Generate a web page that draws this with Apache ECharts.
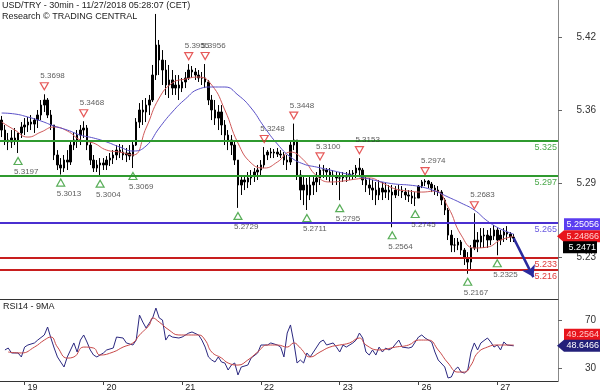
<!DOCTYPE html>
<html><head><meta charset="utf-8">
<script src="https://cdn.jsdelivr.net/npm/echarts@6/dist/echarts.min.js"></script>
<style>html,body{margin:0;padding:0;background:#fff}#c{width:600px;height:392px}</style>
</head><body><div id="c"></div>
<script>
// ---- data (hourly bars, USD/TRY) ----
const firstOpen = 5.3478;
const highs = [5.3513,5.3436,5.3368,5.3393,5.3410,5.3350,5.3461,5.3495,5.3504,5.3521,5.3495,5.3564,5.3649,5.3698,5.3666,5.3564,5.3436,5.3222,5.3154,5.3180,
5.3222,5.3308,5.3376,5.3393,5.3436,5.3468,5.3436,5.3308,5.3180,5.3137,5.3154,5.3154,5.3171,5.3197,5.3222,5.3265,5.3274,5.3265,5.3240,5.3265,
5.3308,5.3495,5.3623,5.3649,5.3666,5.3692,5.3948,5.4383,5.4161,5.4075,5.3990,5.3948,5.3905,5.3862,5.3862,5.3837,5.3888,5.3955,5.3939,5.3922,
5.3905,5.3888,5.3956,5.3820,5.3692,5.3649,5.3606,5.3606,5.3478,5.3393,5.3350,5.3308,5.3137,5.3009,5.3009,5.3035,5.3052,5.3069,5.3095,5.3137,
5.3248,5.3222,5.3240,5.3231,5.3240,5.3222,5.3205,5.3180,5.3308,5.3448,5.3308,5.3052,5.3009,5.2984,5.3009,5.3009,5.3035,5.3100,5.3095,5.3069,
5.3069,5.3052,5.3035,5.3035,5.3035,5.3035,5.3052,5.3052,5.3095,5.3153,5.3069,5.3009,5.2984,5.2967,5.2950,5.2967,5.2950,5.2941,5.2924,5.2924,
5.2915,5.2924,5.2915,5.2898,5.2881,5.2881,5.2864,5.2924,5.2967,5.2974,5.2967,5.2950,5.2924,5.2915,5.2881,5.2813,5.2728,5.2540,5.2472,5.2472,
5.2455,5.2387,5.2352,5.2412,5.2683,5.2523,5.2557,5.2557,5.2540,5.2557,5.2583,5.2557,5.2540,5.2557,5.2574,5.2523,5.2506];
const lows = [5.3333,5.3265,5.3222,5.3240,5.3265,5.3197,5.3325,5.3350,5.3376,5.3393,5.3368,5.3410,5.3478,5.3547,5.3495,5.3393,5.3137,5.3052,5.3013,5.3035,
5.3052,5.3095,5.3222,5.3240,5.3265,5.3325,5.3222,5.3095,5.3035,5.3035,5.3004,5.3052,5.3052,5.3086,5.3103,5.3137,5.3154,5.3137,5.3120,5.3137,
5.3069,5.3257,5.3410,5.3436,5.3461,5.3521,5.3632,5.3820,5.3862,5.3777,5.3692,5.3666,5.3692,5.3692,5.3649,5.3717,5.3751,5.3820,5.3837,5.3820,
5.3803,5.3777,5.3751,5.3606,5.3478,5.3436,5.3393,5.3350,5.3265,5.3222,5.3180,5.3095,5.2729,5.2839,5.2881,5.2898,5.2924,5.2950,5.2967,5.3009,
5.3069,5.3137,5.3154,5.3154,5.3163,5.3154,5.3095,5.3052,5.3095,5.3222,5.2967,5.2796,5.2753,5.2711,5.2796,5.2839,5.2864,5.2924,5.2984,5.2967,
5.2950,5.2924,5.2924,5.2795,5.2950,5.2950,5.2967,5.2967,5.2984,5.3009,5.2924,5.2864,5.2839,5.2796,5.2753,5.2796,5.2796,5.2813,5.2796,5.2564,
5.2813,5.2830,5.2813,5.2796,5.2779,5.2762,5.2745,5.2813,5.2898,5.2915,5.2898,5.2864,5.2839,5.2830,5.2753,5.2668,5.2455,5.2352,5.2352,5.2369,
5.2327,5.2242,5.2167,5.2199,5.2369,5.2352,5.2387,5.2387,5.2387,5.2412,5.2455,5.2325,5.2412,5.2438,5.2455,5.2438,5.2438];
const closes = [5.3393,5.3308,5.3291,5.3325,5.3308,5.3368,5.3419,5.3436,5.3461,5.3444,5.3478,5.3521,5.3606,5.3649,5.3521,5.3436,5.3180,5.3095,5.3069,5.3137,
5.3120,5.3265,5.3308,5.3350,5.3393,5.3410,5.3265,5.3137,5.3069,5.3095,5.3112,5.3095,5.3137,5.3154,5.3180,5.3222,5.3205,5.3180,5.3197,5.3171,
5.3265,5.3461,5.3564,5.3547,5.3606,5.3649,5.3862,5.4118,5.3990,5.3905,5.3777,5.3820,5.3751,5.3777,5.3751,5.3803,5.3837,5.3905,5.3888,5.3862,
5.3837,5.3837,5.3803,5.3649,5.3564,5.3495,5.3547,5.3436,5.3350,5.3308,5.3265,5.3137,5.2924,5.2967,5.2950,5.2984,5.3001,5.3035,5.3052,5.3095,
5.3180,5.3205,5.3197,5.3205,5.3188,5.3180,5.3137,5.3120,5.3265,5.3308,5.3009,5.2881,5.2924,5.2839,5.2924,5.2950,5.2984,5.3052,5.3052,5.3035,
5.3009,5.3001,5.2984,5.2984,5.2992,5.3001,5.3018,5.3026,5.3069,5.3052,5.2967,5.2924,5.2898,5.2881,5.2839,5.2898,5.2864,5.2881,5.2864,5.2839,
5.2881,5.2881,5.2864,5.2839,5.2830,5.2813,5.2813,5.2915,5.2950,5.2958,5.2932,5.2898,5.2881,5.2864,5.2796,5.2711,5.2497,5.2412,5.2412,5.2438,
5.2369,5.2301,5.2267,5.2387,5.2455,5.2438,5.2489,5.2497,5.2455,5.2489,5.2540,5.2455,5.2497,5.2523,5.2506,5.2480,5.2471];

const maIdx = [0,4,8,12,16,20,24,28,32,36,40,44,48,52,56,60,64,68,72,76,80,84,88,92,96,100,104,108,112,116,120,124,128,132,136,140,144,148,152,156];
const maRed = [5.3461,5.3393,5.3333,5.3376,5.3419,5.3385,5.3308,5.3282,5.3222,5.3205,5.3180,5.3410,5.3666,5.3794,5.3828,5.3845,5.3777,5.3564,5.3282,5.3112,
5.3069,5.3120,5.3205,5.3137,5.3001,5.2950,5.2958,5.2975,5.2984,5.2941,5.2890,5.2873,5.2864,5.2873,5.2736,5.2497,5.2387,5.2395,5.2455,5.24866];
const maBlue = [5.3538,5.3530,5.3504,5.3470,5.3427,5.3393,5.3350,5.3325,5.3291,5.3248,5.3214,5.3257,5.3410,5.3547,5.3658,5.3742,5.3760,5.3760,5.3692,5.3581,
5.3419,5.3274,5.3163,5.3103,5.3077,5.3052,5.3026,5.3001,5.2975,5.2950,5.2932,5.2924,5.2907,5.2873,5.2822,5.2770,5.2711,5.2617,5.2549,5.25056];

const peakIdx = [13,25,57,62,80,89,97,109,129,144];
const peakVal = [5.3698,5.3468,5.3955,5.3956,5.3248,5.3448,5.3100,5.3153,5.2974,5.2683];
const troughIdx = [5,18,30,40,72,93,103,119,126,142,151];
const troughVal = [5.3197,5.3013,5.3004,5.3069,5.2729,5.2711,5.2795,5.2564,5.2745,5.2167,5.2325];

const levels = [5.325,5.297,5.265,5.233,5.216];
const forecastIdx = [156,162];
const forecastVal = [5.2471,5.2139];

const rsiIdx = [1,2,3,5,6,7,8,10,11,13,14,15,16,17,18,19,20,22,23,24,25,26,27,28,29,31,32,34,35,37,38,40,41,42,43,44,45,46,47,48,49,50,51,52,54,55,57,58,60,61,62,63,64,65,66,67,68,69,70,71,72,73,75,76,78,79,81,82,84,85,86,87,88,89,90,91,92,93,94,95,97,98,99,101,102,103,104,105,107,108,109,110,111,112,113,114,115,116,117,118,119,121,122,124,125,127,128,129,131,132,133,135,136,137,138,139,140,141,142,143,144,145,146,148,149,150,151,152,153,154,156];
const rsiVal = [45.2,46.8,42.7,42.7,39.4,47.6,49.3,51.0,53.4,57.6,64.2,55.1,46.8,39.4,35.2,31.1,39.4,51.0,43.5,53.4,57.6,51.8,45.2,41.0,39.4,42.7,45.2,46.8,55.9,55.1,51.0,49.3,53.4,74.1,68.3,63.4,67.5,71.7,79.9,71.7,70.0,53.4,57.6,55.9,55.1,55.9,59.2,60.1,57.6,53.4,47.6,39.4,36.9,35.2,39.4,35.2,34.4,28.6,32.7,34.4,24.5,31.1,32.7,38.5,42.7,49.3,49.3,51.0,49.3,47.6,39.4,59.2,65.9,51.8,34.4,36.9,34.4,42.7,39.4,43.5,51.8,53.4,49.3,51.0,47.6,43.5,49.3,47.6,51.0,53.4,59.2,55.1,43.5,41.0,45.2,41.0,47.6,43.5,46.8,45.2,46.8,53.4,47.6,46.8,47.6,55.9,57.6,55.1,51.8,43.5,36.9,31.1,22.0,22.8,28.6,31.1,26.9,26.1,28.6,43.5,51.0,45.2,51.0,55.1,51.8,47.6,49.3,45.2,51.8,49.3,48.6466];
const rsiMaIdx = [2,6,10,13,15,17,20,22,25,28,30,34,37,40,42,45,46,48,51,54,57,60,62,64,67,69,72,75,78,81,84,87,89,91,94,97,100,103,106,109,111,115,120,124,127,130,133,136,139,141,143,145,148,151,154,156];
const rsiMaVal = [43.5,42.7,47.6,53.4,55.9,47.6,38.5,39.4,47.6,46.8,41.0,43.5,47.6,51.0,57.6,65.9,71.7,68.3,61.7,57.6,57.6,57.6,53.4,43.5,38.5,34.4,32.7,36.9,43.5,49.3,49.3,47.6,51.0,46.8,39.4,43.5,47.6,49.3,51.0,55.1,49.3,45.2,47.6,49.3,53.4,53.4,45.2,34.4,26.9,26.9,32.7,42.7,47.6,49.3,49.3,49.2564];

const dayTickIdx = [7,31,55,79,103,127,151];
const dayTickLabels = ['19','20','21','22','23','26','27'];
const priceTicks = [5.2310,5.2935,5.3560,5.4185];
const rsiTicks = [30,70];
const slotCount = 170;

// ---- build ----
const FONT = "'Liberation Sans', Arial, sans-serif";
const cats = Array.from({length: slotCount}, (_, i) => String(i));
const ohlc = closes.map((c, i) => [i === 0 ? firstOpen : closes[i-1], c, lows[i], highs[i]]);
const pairs = (ix, vs) => ix.map((x, k) => [x, vs[k]]);
const levelLine = ['#2f9a2f','#2f9a2f','#4a2fd0','#c81e1e','#c81e1e'];
const levelText = ['#4aa84a','#4aa84a','#6a5ae0','#e03a3a','#e03a3a'];
const isDay = (i) => dayTickIdx.indexOf(i) >= 0;

const chart = echarts.init(document.getElementById('c'), null, {renderer: 'canvas'});
const option = {
  animation: false,
  backgroundColor: '#fff',
  textStyle: {fontFamily: FONT},
  grid: [
    {left: 0, right: 42, top: 0, height: 299},
    {left: 0, right: 42, top: 299, height: 82}
  ],
  xAxis: [
    {type: 'category', gridIndex: 0, data: cats, boundaryGap: true,
     axisLine: {show: true, lineStyle: {color: '#333', width: 1}},
     axisTick: {show: false}, axisLabel: {show: false}, splitLine: {show: false}},
    {type: 'category', gridIndex: 1, data: cats, boundaryGap: true,
     axisLine: {show: true, lineStyle: {color: '#333', width: 1}},
     axisTick: {show: true, alignWithLabel: true, interval: (i) => isDay(i), length: 4, lineStyle: {color: '#444'}},
     axisLabel: {show: true, interval: (i) => isDay(i), align: 'left', padding: [0,0,0,3], margin: 2,
       fontSize: 9, color: '#222', fontFamily: FONT,
       formatter: (v, i) => dayTickLabels[dayTickIdx.indexOf(Number(v))] || ''},
     splitLine: {show: false}}
  ],
  yAxis: [
    {type: 'value', gridIndex: 0, position: 'right', min: 5.1952, max: 5.4502, scale: true,
     axisLine: {show: true, lineStyle: {color: '#888', width: 1}},
     axisTick: {show: true, length: 4, customValues: priceTicks, lineStyle: {color: '#666'}},
     axisLabel: {show: true, customValues: priceTicks, formatter: (v) => v.toFixed(2), align: 'right', margin: 38,
       fontSize: 10, color: '#333', fontFamily: FONT},
     splitLine: {show: false}},
    {type: 'value', gridIndex: 1, position: 'right', min: 19.5, max: 87.4,
     axisLine: {show: true, lineStyle: {color: '#888', width: 1}},
     axisTick: {show: true, length: 4, customValues: rsiTicks, lineStyle: {color: '#666'}},
     axisLabel: {show: true, customValues: rsiTicks, formatter: (v) => String(Math.round(v)), align: 'right', margin: 38,
       fontSize: 10, color: '#333', fontFamily: FONT},
     splitLine: {show: false}}
  ],
  series: [
    {type: 'candlestick', xAxisIndex: 0, yAxisIndex: 0, data: ohlc, barWidth: 2,
     itemStyle: {color: '#000', color0: '#000', borderColor: '#000', borderColor0: '#000', borderWidth: 1},
     markLine: {silent: true, symbol: 'none', animation: false,
       data: levels.map((v, k) => ({yAxis: v,
         lineStyle: {color: levelLine[k], width: 2, type: 'solid'},
         label: {show: true, position: 'insideEndBottom', formatter: v.toFixed(3), color: levelText[k],
                 fontSize: 9, fontFamily: FONT, distance: [1, 2]}}))}},
    {type: 'line', xAxisIndex: 0, yAxisIndex: 0, data: pairs(maIdx, maRed), smooth: true, showSymbol: false,
     lineStyle: {color: '#d05a5a', width: 1}, z: 3},
    {type: 'line', xAxisIndex: 0, yAxisIndex: 0, data: pairs(maIdx, maBlue), smooth: true, showSymbol: false,
     lineStyle: {color: '#5a50c8', width: 1}, z: 3},
    {type: 'line', xAxisIndex: 0, yAxisIndex: 0, data: [], showSymbol: false,
     markLine: {silent: true, symbol: ['none', 'arrow'], symbolSize: 11, animation: false,
       lineStyle: {color: '#2a2a9e', width: 2.5, type: 'solid'}, label: {show: false},
       data: [[{coord: [forecastIdx[0], forecastVal[0]]}, {coord: [forecastIdx[1], forecastVal[1]]}]]}},
    {type: 'scatter', xAxisIndex: 0, yAxisIndex: 0, data: pairs(peakIdx, peakVal), symbol: 'triangle',
     symbolRotate: 180, symbolSize: [8, 7], symbolOffset: [0, -8], z: 5,
     itemStyle: {color: 'rgba(255,255,255,0)', borderColor: '#e03030', borderWidth: 1.2},
     label: {show: true, position: 'top', distance: 2, align: 'left', offset: [-4, 0],
       formatter: (p) => p.value[1].toFixed(4), fontSize: 8, color: '#333', fontFamily: FONT}},
    {type: 'scatter', xAxisIndex: 0, yAxisIndex: 0, data: pairs(troughIdx, troughVal), symbol: 'triangle',
     symbolSize: [8, 7], symbolOffset: [0, 8], z: 5,
     itemStyle: {color: 'rgba(255,255,255,0)', borderColor: '#2f9a2f', borderWidth: 1.2},
     label: {show: true, position: 'bottom', distance: 3, align: 'left', offset: [-4, 0],
       formatter: (p) => p.value[1].toFixed(4), fontSize: 8, color: '#333', fontFamily: FONT}},
    {type: 'line', xAxisIndex: 1, yAxisIndex: 1, data: pairs(rsiIdx, rsiVal), showSymbol: false,
     lineStyle: {color: '#2b2880', width: 1}},
    {type: 'line', xAxisIndex: 1, yAxisIndex: 1, data: pairs(rsiMaIdx, rsiMaVal), smooth: true, showSymbol: false,
     lineStyle: {color: '#c84848', width: 1}}
  ]
};
chart.setOption(option);

// ---- value tags on the right ----
const yPx = (axis, v) => chart.convertToPixel({yAxisIndex: axis}, v);
const yRedMA = yPx(0, maRed[maRed.length-1]);
const yRsi = yPx(1, rsiVal[rsiVal.length-1]);
function tag(id, y, x0, x1, fill, text, arrow, txtColor) {
  const h = 12, t = y - h/2, b = y + h/2;
  const pts = arrow ? [[x0, y], [x0+7, t], [x1, t], [x1, b], [x0+7, b]] : [[x0, t], [x1, t], [x1, b], [x0, b]];
  return [
    {type: 'polygon', id: id + 'b', shape: {points: pts}, style: {fill: fill}, z: 100},
    {type: 'text', id: id + 't', x: x1 - 1, y: y, z: 101,
     style: {text: text, fill: txtColor || '#fff', font: '9px ' + FONT, align: 'right', verticalAlign: 'middle'}}
  ];
}
const g = [].concat(
  tag('p1', yRedMA - 12, 564, 600, '#5b3df0', maBlue[maBlue.length-1].toFixed(5), false),
  tag('p2', yRedMA, 557, 600, '#e8141c', maRed[maRed.length-1].toFixed(5), true, '#ffd0d0'),
  tag('p3', yRedMA + 11, 563, 597, '#000', closes[closes.length-1].toFixed(4), false),
  tag('r1', yRsi - 11, 564, 600, '#e8141c', rsiMaVal[rsiMaVal.length-1].toFixed(4), false, '#ffc8c8'),
  tag('r2', yRsi, 557, 600, '#23207a', rsiVal[rsiVal.length-1].toFixed(4), true),
  [
    {type: 'text', id: 'title1', x: 2, y: 1, style: {text: 'USD/TRY - 30min - 11/27/2018 05:28:07 (CET)', fill: '#222', font: '9px ' + FONT}},
    {type: 'text', id: 'title2', x: 2, y: 12, style: {text: 'Research \u00A9 TRADING CENTRAL', fill: '#222', font: '9px ' + FONT}},
    {type: 'text', id: 'rsiT', x: 3, y: 302, style: {text: 'RSI14 - 9MA', fill: '#222', font: '9px ' + FONT}}
  ]
);
chart.setOption({graphic: g});
</script>
</body></html>
